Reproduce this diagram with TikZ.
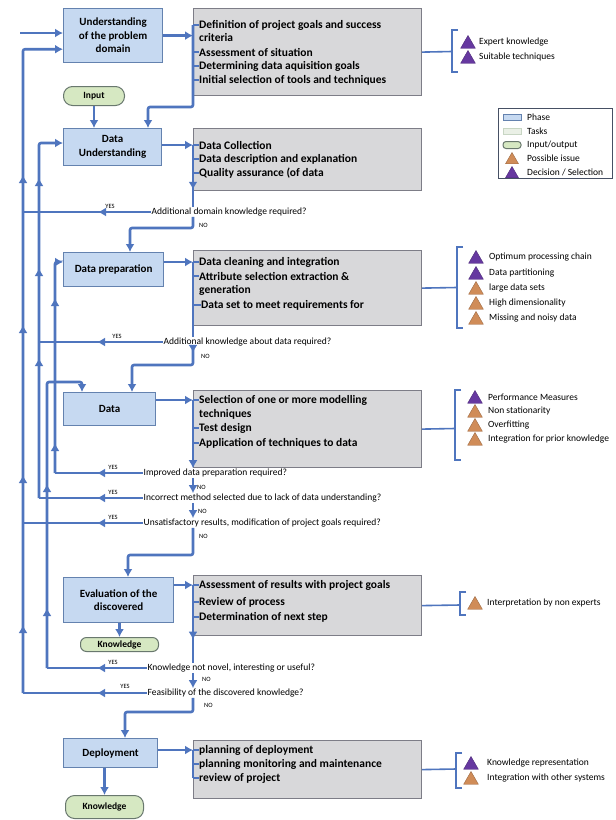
\documentclass[tikz,border=0pt]{standalone}
\usepackage{fontspec}
\setmainfont{Carlito}
\usetikzlibrary{arrows.meta, shapes.geometric, decorations.markings, calc}

\definecolor{flowblue}{RGB}{79,117,190}
\definecolor{phasefill}{RGB}{198,217,241}
\definecolor{phaseline}{RGB}{100,130,175}
\definecolor{taskfill}{RGB}{216,216,218}
\definecolor{taskline}{RGB}{125,125,135}
\definecolor{iofill}{RGB}{214,232,194}
\definecolor{ioline}{RGB}{105,120,110}
\definecolor{issuecol}{RGB}{208,140,88}
\definecolor{choicecol}{RGB}{102,56,160}
\definecolor{legline}{RGB}{70,80,100}
\definecolor{legtaskfill}{RGB}{234,240,230}
\definecolor{legtaskline}{RGB}{200,214,196}

\tikzset{
  phase/.style={draw=phaseline, fill=phasefill, line width=1.2pt, anchor=north west,
    align=center, inner sep=0pt, font=\fontsize{11}{13.5}\selectfont\bfseries},
  taskbox/.style={draw=taskline, fill=taskfill, line width=1.2pt, anchor=north west,
    minimum width=228pt, inner sep=0pt},
  io/.style={draw=ioline, fill=iofill, line width=1pt, rounded corners=9pt, anchor=north west,
    inner sep=0pt, font=\fontsize{9.5}{10}\selectfont\bfseries},
  task/.style={anchor=west, inner sep=0pt, font=\fontsize{11.5}{12}\selectfont\bfseries},
  ask/.style={anchor=west, inner sep=0.5pt, font=\fontsize{9.5}{10}\selectfont},
  yn/.style={inner sep=0pt, font=\fontsize{6.5}{7}\selectfont},
  lab/.style={anchor=west, inner sep=0pt, font=\fontsize{9.5}{10}\selectfont},
  flow/.style={flowblue, line width=2.6pt, rounded corners=2pt},
  stub/.style={flowblue, line width=1.6pt},
  bkt/.style={flowblue, line width=1.6pt},
  arr/.style={-{Latex[length=8pt,width=9pt]}},
  midtip/.style={postaction={decorate}, decoration={markings,
    mark=at position #1 with {\arrow{Latex[length=8pt,width=9pt]}}}},
  ups/.style={postaction={decorate}, decoration={markings,
    mark=between positions #1 with {\arrow{Latex[length=8pt,width=9pt]}}}},
  issue/.style={regular polygon, regular polygon sides=3, minimum size=17pt, inner sep=0pt,
    fill=issuecol, draw=issuecol!75!black, line width=0.4pt},
  choice/.style={issue, fill=choicecol, draw=choicecol!75!black},
}

\begin{document}
\begin{tikzpicture}[x=1pt, y=-1pt]
  \useasboundingbox (0,0) rectangle (616,820);
  \fill[white] (0,0) rectangle (616,820);

  % Phases
  \node[phase, minimum width=99pt, minimum height=54pt] (und) at (63,8) {Understanding\\of the problem\\domain};
  \node[phase, minimum width=98pt, minimum height=37pt] (du) at (63,128) {Data\\Understanding};
  \node[phase, minimum width=100pt, minimum height=34pt] (dp) at (63,252) {Data preparation};
  \node[phase, minimum width=92pt, minimum height=33pt] (data) at (63,392) {Data};
  \node[phase, minimum width=110pt, minimum height=45pt] (eval) at (63,577) {Evaluation of the\\discovered};
  \node[phase, minimum width=94pt, minimum height=29pt] (dep) at (63,738) {Deployment};

  % Input / output
  \node[io, minimum width=61pt, minimum height=19pt] (input) at (63,86) {Input};
  \node[io, minimum width=78pt, minimum height=14pt, rounded corners=6pt] (k1) at (80,637) {Knowledge};
  \node[io, minimum width=78pt, minimum height=23pt] (k2) at (65,795) {Knowledge};

  % Task boxes
  \node[taskbox, minimum height=87pt] (tb1) at (193,8) {};
  \node[taskbox, minimum height=62pt] (tb2) at (193,128) {};
  \node[taskbox, minimum height=75pt] (tb3) at (193,250) {};
  \node[taskbox, minimum height=77pt] (tb4) at (193,390) {};
  \node[taskbox, minimum height=60pt] (tb5) at (193,575) {};
  \node[taskbox, minimum height=58pt] (tb6) at (193,740) {};

  \node[task] (t11) at (199,25) {Definition of project goals and success};
  \node[task] (t12) at (199,38) {criteria};
  \node[task] (t13) at (199,52) {Assessment of situation};
  \node[task] (t14) at (199,66) {Determining data aquisition goals};
  \node[task] (t15) at (199,80) {Initial selection of tools and techniques};

  \node[task] (t21) at (199,145) {Data Collection};
  \node[task] (t22) at (199,159) {Data description and explanation};
  \node[task] (t23) at (199,173) {Quality assurance (of data};

  \node[task] (t31) at (199,262) {Data cleaning and integration};
  \node[task] (t32) at (199,276) {Attribute selection extraction \&};
  \node[task] (t33) at (199,290) {generation};
  \node[task] (t34) at (201,305) {Data set to meet requirements for};

  \node[task] (t41) at (199,400) {Selection of one or more modelling};
  \node[task] (t42) at (199,414) {techniques};
  \node[task] (t43) at (199,428) {Test design};
  \node[task] (t44) at (199,443) {Application of techniques to data};

  \node[task] (t51) at (199,585) {Assessment of results with project goals};
  \node[task] (t52) at (199,602) {Review of process};
  \node[task] (t53) at (199,617) {Determination of next step};

  \node[task] (t61) at (199,750) {planning of deployment};
  \node[task] (t62) at (199,764) {planning monitoring and maintenance};
  \node[task] (t63) at (199,778) {review of project};

  \foreach \t/\b in {t11/tb1, t13/tb1, t14/tb1, t15/tb1, t21/tb2, t22/tb2, t23/tb2,
      t31/tb3, t32/tb3, t34/tb3, t41/tb4, t43/tb4, t44/tb4, t51/tb5, t52/tb5, t53/tb5,
      t61/tb6, t62/tb6, t63/tb6}
    \draw[stub] (\t.west -| \b.west) -- (\t.west);

  % Decisions
  \node[ask] (d1) at (151,212) {Additional domain knowledge required?};
  \node[ask] (d2) at (163,342) {Additional knowledge about data required?};
  \node[ask] (d3) at (143,473) {Improved data preparation required?};
  \node[ask] (d4) at (143,498) {Incorrect method selected due to lack of data understanding?};
  \node[ask] (d5) at (143,523) {Unsatisfactory results, modification of project goals required?};
  \node[ask] (d6) at (147,668) {Knowledge not novel, interesting or useful?};
  \node[ask] (d7) at (147,693) {Feasibility of the discovered knowledge?};

  \node[yn] (y1) at (110,206) {YES};
  \node[yn] (y2) at (117,336) {YES};
  \node[yn] (y3) at (113,467) {YES};
  \node[yn] (y4) at (113,492) {YES};
  \node[yn] (y5) at (113,517) {YES};
  \node[yn] (y6) at (113,662) {YES};
  \node[yn] (y7) at (125,686) {YES};
  \node[yn, anchor=west] (n1) at (199,225) {NO};
  \node[yn, anchor=west] (n2) at (201,356) {NO};
  \node[yn, anchor=west] (n3) at (197,487) {NO};
  \node[yn, anchor=west] (n4) at (198,511) {NO};
  \node[yn, anchor=west] (n5) at (199,536) {NO};
  \node[yn, anchor=west] (n6) at (202,679) {NO};
  \node[yn, anchor=west] (n7) at (204,705) {NO};

  % Main flow
  \coordinate (start) at (20,33);
  \coordinate (c1) at (148,107);
  \coordinate (c2) at (130,228);
  \coordinate (c3) at (132,365);
  \coordinate (c4) at (128,555);
  \coordinate (c5) at (125,712);

  \draw[flow, arr] (start) -- (start -| und.west);
  \draw[flow, arr] (und.east) -- (und.east -| tb1.west);
  \draw[flow, arr] (t11.west -| tb1.west) |- (c1) -- (c1 |- du.north);
  \draw[flow, arr] (input.south) -- (input.south |- du.north);

  \draw[flow, arr] (du.east |- t21.west) -- (t21.west -| tb2.west);
  \draw[flow, midtip=0.72] (t21.west -| tb2.west) -- (d1.north -| tb2.west);
  \draw[flow, arr] (d1.south -| tb2.west) |- (c2) -- (c2 |- dp.north);

  \draw[flow, arr] (dp.east |- t31.west) -- (t31.west -| tb3.west);
  \draw[flow] (t31.west -| tb3.west) -- (d2.north -| tb3.west);
  \draw[flow, arr, midtip=6pt] (d2.south -| tb3.west) |- (c3) -- (c3 |- data.north);

  \draw[flow, arr] (data.east |- t41.west) -- (t41.west -| tb4.west);
  \draw[flow, arr] (t41.west -| tb4.west) -- (d3.north -| tb4.west);
  \draw[flow, arr] (d3.south -| tb4.west) -- (d4.north -| tb4.west);
  \draw[flow, arr] (d4.south -| tb4.west) -- (d5.north -| tb4.west);
  \draw[flow, arr] (d5.south -| tb4.west) |- (c4) -- (c4 |- eval.north);

  \draw[flow, arr] (eval.east |- t51.west) -- (t51.west -| tb5.west);
  \draw[flow, midtip=0.7] (t51.west -| tb5.west) -- (d6.north -| tb5.west);
  \draw[flow, arr] (d6.south -| tb5.west) -- (d7.north -| tb5.west);
  \draw[flow, arr] (d7.south -| tb5.west) |- (c5) -- (c5 |- dep.north);
  \draw[flow, arr] (k1.north |- eval.south) -- (k1.north);

  \draw[flow, arr] (dep.east |- t61.west) -- (t61.west -| tb6.west);
  \draw[flow] (t61.west -| tb6.west) -- (t63.west -| tb6.west);
  \draw[flow, arr] (k2.north |- dep.south) -- (k2.north);

  % Feedback loops (YES)
  \coordinate (xa) at (23,0);
  \coordinate (xb) at (39,0);
  \coordinate (xc) at (55,0);
  \coordinate (xd) at (47,0);
  \coordinate (inU) at ($(und.south west)+(0,-14)$);
  \coordinate (inDU) at ($(du.north west)+(0,15)$);
  \coordinate (inDP) at ($(dp.north west)+(0,10)$);
  \coordinate (c6) at (82,382);

  \draw[flow, arr, ups=68pt and 520pt step 150pt] (d7.west -| xa) -- (xa |- inU) -- (inU);
  \draw[flow, arr, ups=140pt and 330pt step 90pt] (d4.west -| xb) -- (xb |- inDU) -- (inDU);
  \draw[flow, arr, ups=30pt and 180pt step 145pt] (d3.west -| xc) -- (xc |- inDP) -- (inDP);
  \draw[flow, arr, ups=60pt and 190pt step 124pt] (d6.west -| xd) |- (c6) -- (c6 |- data.north);

  \draw[flow, midtip=53pt] (d1.west) -- (d1.west -| xa);
  \draw[flow, midtip=66pt] (d2.west) -- (d2.west -| xb);
  \draw[flow, midtip=46pt] (d3.west) -- (d3.west -| xc);
  \draw[flow, midtip=46pt] (d4.west) -- (d4.west -| xb);
  \draw[flow, midtip=46pt] (d5.west) -- (d5.west -| xa);
  \draw[flow, midtip=50pt] (d6.west) -- (d6.west -| xd);
  \draw[flow, midtip=50pt] (d7.west) -- (d7.west -| xa);

  % Brackets with issues and decisions
  \foreach \b/\x/\y/\t/\u in {tb1/452/51.5/30/72, tb3/457/287.5/247/328, tb4/455/428.5/390/460,
      tb5/460/605/592/615, tb6/456/769/753/788} {
    \draw[bkt] (\b.east) -- (\x,\y);
    \draw[bkt] (\x+6,\t) -- (\x,\t) -- (\x,\u) -- (\x+6,\u);
  }

  \foreach \s/\y/\t in {choice/42/Expert knowledge, choice/57/Suitable techniques}
    {\node[\s] (m\y) at (468,\y+2) {}; \node[lab] (i\y) at (479,\y) {\t};}
  \foreach \s/\y/\t in {choice/257/Optimum processing chain, choice/273/Data partitioning,
      issue/288/large data sets, issue/303/High dimensionality, issue/318/Missing and noisy data}
    {\node[\s] (m\y) at (476,\y+2) {}; \node[lab] (i\y) at (489,\y) {\t};}
  \foreach \s/\y/\t in {choice/397/Performance Measures, issue/411/Non stationarity,
      issue/425/Overfitting, issue/439/Integration for prior knowledge}
    {\node[\s] (m\y) at (475,\y+2) {}; \node[lab] (i\y) at (488,\y) {\t};}
  \foreach \s/\y/\t in {issue/603/Interpretation by non experts}
    {\node[\s] (m\y) at (475,\y+2) {}; \node[lab] (i\y) at (487,\y) {\t};}
  \foreach \s/\y/\t in {choice/763/Knowledge representation, issue/778/Integration with other systems}
    {\node[\s] (m\y) at (471,\y+2) {}; \node[lab] (i\y) at (487,\y) {\t};}

  % Legend
  \node[draw=legline, line width=1pt, minimum width=114pt, minimum height=70pt,
    anchor=north west, inner sep=0pt] (legend) at (498,108) {};
  \node[draw=phaseline, fill=phasefill, line width=0.8pt, minimum width=18pt,
    minimum height=6pt, inner sep=0pt] (lg1) at (512,117) {};
  \node[draw=legtaskline, fill=legtaskfill, line width=0.8pt, minimum width=18pt,
    minimum height=6pt, inner sep=0pt] (lg2) at (512,131) {};
  \node[io, anchor=center, minimum width=18pt, minimum height=7pt, rounded corners=3pt] (lg3) at (512,145) {};
  \node[issue, minimum size=15pt] (lg4) at (512,160) {};
  \node[choice, minimum size=15pt] (lg5) at (512,174) {};
  \node[lab] (lt1) at (527,117) {Phase};
  \node[lab] (lt2) at (527,131) {Tasks};
  \node[lab] (lt3) at (527,145) {Input/output};
  \node[lab] (lt4) at (527,158) {Possible issue};
  \node[lab] (lt5) at (527,172) {Decision / Selection};
\end{tikzpicture}
\end{document}
